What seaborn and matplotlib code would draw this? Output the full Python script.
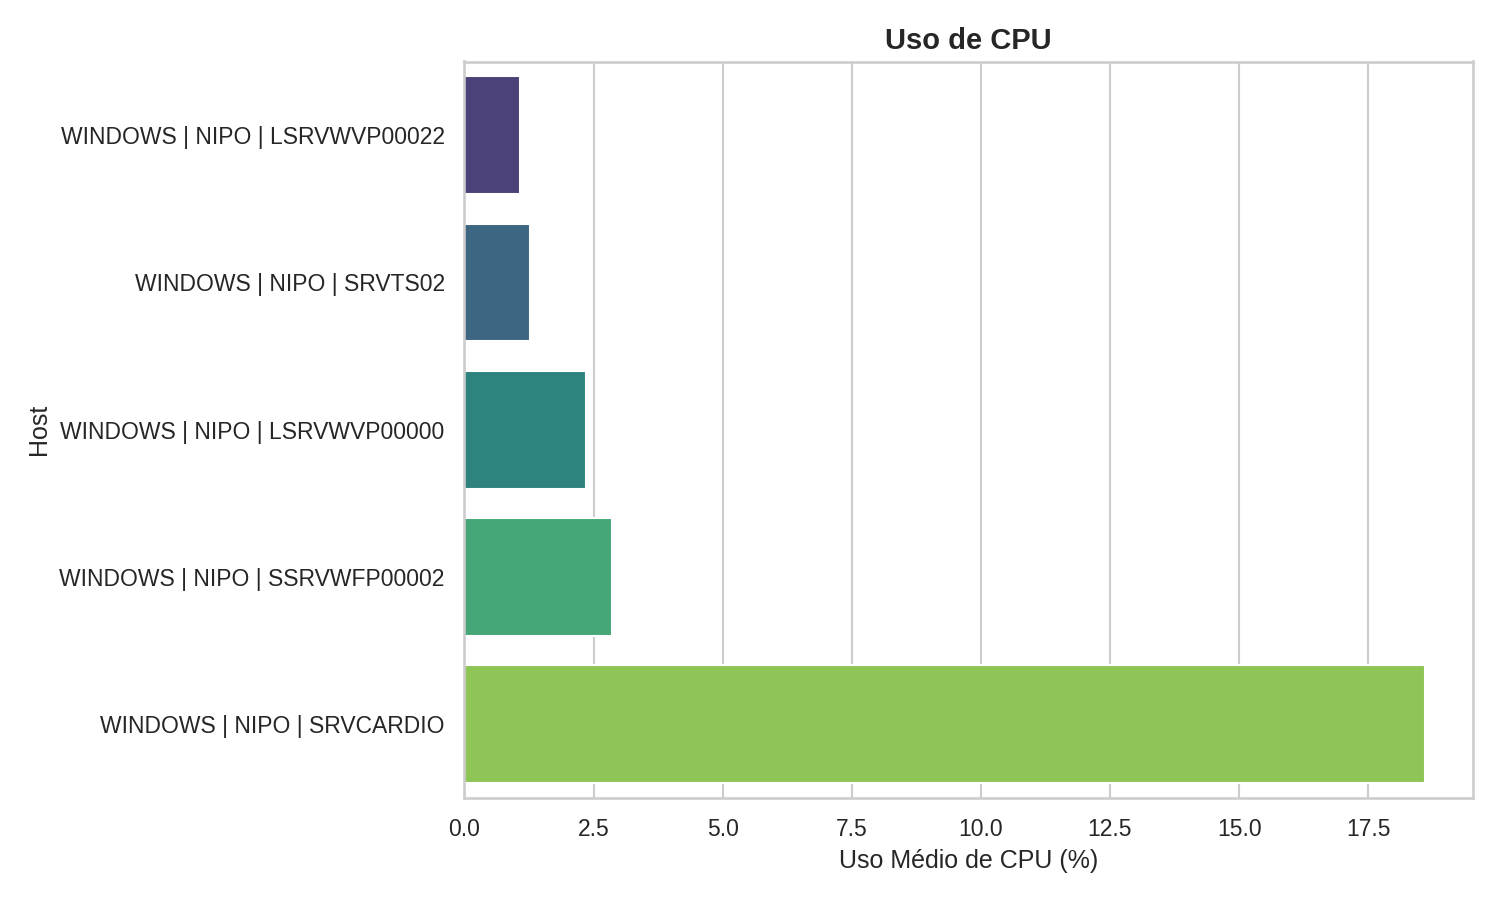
import matplotlib
matplotlib.use("Agg")
import matplotlib.pyplot as plt
import seaborn as sns
import pandas as pd

# ─── Data ─────────────────────────────────────────────────────────────────────
hosts = [
    "WINDOWS | NIPO | LSRVWVP00022",
    "WINDOWS | NIPO | SRVTS02",
    "WINDOWS | NIPO | LSRVWVP00000",
    "WINDOWS | NIPO | SSRVWFP00002",
    "WINDOWS | NIPO | SRVCARDIO",
]
cpu_mean = [1.08, 1.26, 2.36, 2.85, 18.6]

df = pd.DataFrame({"Host": hosts, "cpu": cpu_mean})

# ─── Plot ─────────────────────────────────────────────────────────────────────
sns.set_theme(style="whitegrid")
plt.rcParams["font.family"] = ["Liberation Sans", "DejaVu Sans"]
fig, ax = plt.subplots(figsize=(10, 6), dpi=150)
sns.barplot(data=df, x="cpu", y="Host", hue="Host", palette="viridis",
            legend=False, ax=ax)
ax.set_title("Uso de CPU", fontsize=14, fontweight="bold")
ax.set_xlabel("Uso Médio de CPU (%)")
ax.set_ylabel("Host")
plt.tight_layout()
plt.savefig("out.png", dpi=150)
plt.close()
